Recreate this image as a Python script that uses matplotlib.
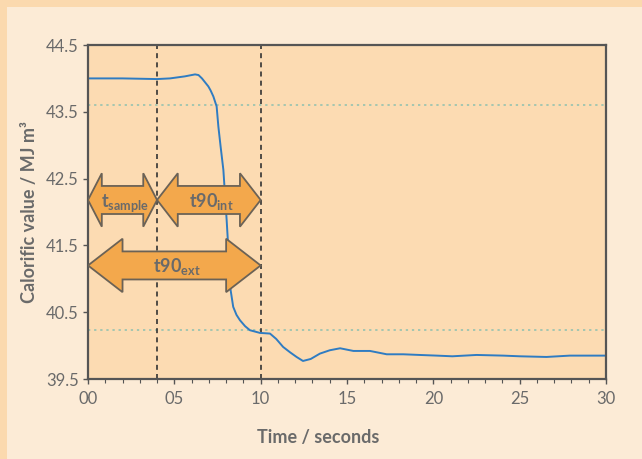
import matplotlib
matplotlib.use("Agg")
import matplotlib.pyplot as plt
from matplotlib.patches import Polygon, Rectangle

plt.rcParams["font.family"] = ["Lato", "DejaVu Sans"]

# measured response curve
time_s = [0, 2, 4, 4.75, 5.6, 6.2, 6.4, 6.6, 6.97, 7.1, 7.26, 7.45, 7.55, 7.68,
          7.84, 8.03, 8.12, 8.26, 8.41, 8.6, 8.8, 9.1, 9.38, 9.96, 10.54, 10.9,
          11.3, 11.7, 12.08, 12.45, 12.9, 13.43, 14.0, 14.6, 15.37, 16.33,
          17.3, 18.26, 19.2, 20.2, 21.1, 22.5, 24.05, 25, 26.55, 27.9, 30]
calorific = [44.0, 44.0, 43.99, 44.0, 44.03, 44.06, 44.05, 44.0, 43.88, 43.82,
             43.73, 43.58, 43.28, 42.98, 42.63, 41.88, 41.48, 40.83, 40.58,
             40.46, 40.38, 40.29, 40.23, 40.19, 40.18, 40.1, 39.98, 39.9,
             39.83, 39.77, 39.8, 39.88, 39.93, 39.96, 39.92, 39.92, 39.87,
             39.87, 39.86, 39.85, 39.84, 39.86, 39.85, 39.84, 39.83, 39.85,
             39.85]

# reference levels and markers
band_levels = [43.6, 40.24]
marker_times = [4, 10]

# annotation arrows
arrow_labels = [r"t$_{\mathregular{sample}}$", r"t90$_{\mathregular{int}}$",
                r"t90$_{\mathregular{ext}}$"]
arrow_starts = [0, 4, 0]
arrow_ends = [4, 10, 10]
arrow_levels = [42.18, 42.18, 41.2]

x_ticks = [0, 5, 10, 15, 20, 25, 30]
x_tick_labels = ["00", "05", "10", "15", "20", "25", "30"]
y_ticks = [39.5, 40.5, 41.5, 42.5, 43.5, 44.5]

TEXT = "#6a6a6a"
SPINE = "#555555"

fig = plt.figure(figsize=(6.42, 4.59), dpi=100, facecolor="#fcebd6")
fig.patches.append(Rectangle((0, 0), 7 / 642, 1, transform=fig.transFigure,
                             facecolor="#fbd9ae", edgecolor="none", zorder=0))
fig.patches.append(Rectangle((0, 1 - 7 / 459), 1, 7 / 459, transform=fig.transFigure,
                             facecolor="#fbd9ae", edgecolor="none", zorder=0))

ax = fig.add_axes([88 / 642, 1 - 379 / 459, 518 / 642, 334 / 459])
ax.set_facecolor("#fcdbb2")

for level in band_levels:
    ax.axhline(level, color="#8cc0b0", linestyle=(0, (1.5, 2.5)), linewidth=1.1, zorder=1)
for t in marker_times:
    ax.axvline(t, color="#333333", linestyle=(0, (3, 2.5)), linewidth=1.2, zorder=1)

ax.plot(time_s, calorific, color="#2f7cc2", linewidth=1.4, zorder=2)


def double_arrow(x0, x1, yc, head_h=0.40, body_h=0.21):
    hl = 0.2 * (x1 - x0)
    pts = [(x0, yc), (x0 + hl, yc + head_h), (x0 + hl, yc + body_h),
           (x1 - hl, yc + body_h), (x1 - hl, yc + head_h), (x1, yc),
           (x1 - hl, yc - head_h), (x1 - hl, yc - body_h),
           (x0 + hl, yc - body_h), (x0 + hl, yc - head_h)]
    ax.add_patch(Polygon(pts, closed=True, facecolor="#f3a84c",
                         edgecolor="#6b6256", linewidth=1.3, zorder=3))


for label, x0, x1, yc in zip(arrow_labels, arrow_starts, arrow_ends, arrow_levels):
    double_arrow(x0, x1, yc)
    ax.text((x0 + x1) / 2 + 0.15, yc - 0.1, label, ha="center", va="baseline",
            fontsize=13, fontweight="bold", color=TEXT, zorder=4)

ax.set_xlim(0, 30)
ax.set_ylim(39.5, 44.5)
ax.set_xticks(x_ticks)
ax.set_xticklabels(x_tick_labels)
ax.set_xticks(range(0, 31), minor=True)
ax.set_yticks(y_ticks)
ax.set_yticklabels([f"{v:.1f}" for v in y_ticks])

ax.tick_params(axis="both", which="major", direction="out", length=3.5, width=1,
               color=SPINE, labelsize=12, labelcolor=TEXT)
ax.tick_params(axis="x", which="minor", direction="out", length=3, width=0.8, color=SPINE)
ax.tick_params(axis="x", pad=5)
ax.tick_params(axis="y", pad=3)
for spine in ax.spines.values():
    spine.set_color(SPINE)
    spine.set_linewidth(1.6)

ax.set_xlabel("Time / seconds", fontsize=13, fontweight="bold", color=TEXT)
ax.xaxis.set_label_coords(0.444, -0.15)
ax.set_ylabel("Calorific value / MJ m³", fontsize=13, fontweight="bold", color=TEXT)
ax.yaxis.set_label_coords(-0.097, 0.5)

fig.savefig("out.png", dpi=100, facecolor=fig.get_facecolor())
